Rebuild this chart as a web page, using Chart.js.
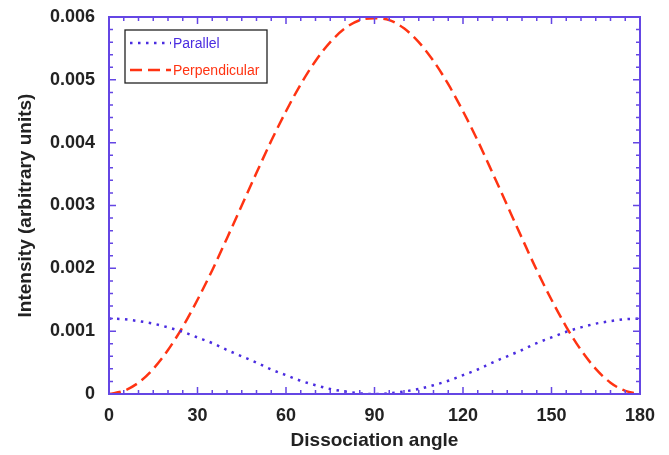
<!DOCTYPE html>
<html>
<head>
<meta charset="utf-8">
<script src="https://cdn.jsdelivr.net/npm/chart.js@4"></script>
<style>
  html, body { margin: 0; padding: 0; background: #ffffff; }
  #wrap { width: 669px; height: 455px; }
</style>
</head>
<body>
<div id="wrap"><canvas id="c" width="669" height="455"></canvas></div>
<script>
const angles = [0,5,10,15,20,25,30,35,40,45,50,55,60,65,70,75,80,85,90,95,100,105,110,115,120,125,130,135,140,145,150,155,160,165,170,175,180];
const parallel = [0.0012,0.00119,0.00116,0.00112,0.00106,0.00099,0.0009,0.00081,0.0007,0.0006,0.0005,0.00039,0.0003,0.00021,0.00014,0.00008,0.00004,0.00001,0,0.00001,0.00004,0.00008,0.00014,0.00021,0.0003,0.00039,0.0005,0.0006,0.0007,0.00081,0.0009,0.00099,0.00106,0.00112,0.00116,0.00119,0.0012];
const perpendicular = [0,0.00005,0.00018,0.0004,0.0007,0.00107,0.0015,0.00197,0.00248,0.003,0.00352,0.00403,0.0045,0.00493,0.0053,0.0056,0.00582,0.00595,0.00598,0.00595,0.00582,0.0056,0.0053,0.00493,0.0045,0.00403,0.00352,0.003,0.00248,0.00197,0.0015,0.00107,0.0007,0.0004,0.00018,0.00005,0];
const xTickLabels = ['0','30','60','90','120','150','180'];
const yTickLabels = ['0','0.001','0.002','0.003','0.004','0.005','0.006'];
const seriesNames = ['Parallel','Perpendicular'];

const BLUE = '#4a2ce0';
const RED = '#ff3312';
const AXIS = '#6446e4';
const TXT = '#222222';
const FONT = '"Liberation Sans", Arial, Helvetica, sans-serif';

const dotted = [2.5, 5.5];
const dashed = [12, 6];

const frameTicks = {
  id: 'frameTicks',
  afterDatasetsDraw(chart) {
    const {ctx, chartArea: ca, scales} = chart;
    const xs = scales.x, ys = scales.y;
    ctx.save();
    ctx.strokeStyle = AXIS;
    ctx.lineWidth = 1.5;
    for (let v = 0; v <= 180; v += 5) {
      const px = xs.getPixelForValue(v);
      const len = (v % 30 === 0) ? 7 : 4;
      ctx.beginPath();
      ctx.moveTo(px, ca.bottom); ctx.lineTo(px, ca.bottom - len);
      ctx.moveTo(px, ca.top); ctx.lineTo(px, ca.top + len);
      ctx.stroke();
    }
    for (let i = 0; i <= 30; i++) {
      const v = i * 0.0002;
      const py = ys.getPixelForValue(v);
      const len = (i % 5 === 0) ? 7 : 4;
      ctx.beginPath();
      ctx.moveTo(ca.left, py); ctx.lineTo(ca.left + len, py);
      ctx.moveTo(ca.right, py); ctx.lineTo(ca.right - len, py);
      ctx.stroke();
    }
    ctx.lineWidth = 2;
    ctx.strokeRect(ca.left, ca.top, ca.right - ca.left, ca.bottom - ca.top);

    // legend
    const bx = ca.left + 16, by = ca.top + 13, bw = 142, bh = 53;
    ctx.fillStyle = '#ffffff';
    ctx.fillRect(bx, by, bw, bh);
    ctx.strokeStyle = '#222';
    ctx.lineWidth = 1.3;
    ctx.strokeRect(bx, by, bw, bh);
    const items = [
      {name: seriesNames[0], color: BLUE, dash: dotted, y: by + 13},
      {name: seriesNames[1], color: RED, dash: dashed, y: by + 40}
    ];
    ctx.font = '14px ' + FONT;
    ctx.textBaseline = 'middle';
    items.forEach(it => {
      ctx.beginPath();
      ctx.strokeStyle = it.color;
      ctx.lineWidth = 2.5;
      ctx.setLineDash(it.dash);
      ctx.moveTo(bx + 5, it.y); ctx.lineTo(bx + 46, it.y);
      ctx.stroke();
      ctx.setLineDash([]);
      ctx.fillStyle = it.color;
      ctx.fillText(it.name, bx + 48, it.y + 1);
    });
    ctx.restore();
  }
};

new Chart(document.getElementById('c'), {
  type: 'line',
  data: {
    datasets: [
      {
        label: seriesNames[0],
        data: angles.map((a, i) => ({x: a, y: parallel[i]})),
        borderColor: BLUE,
        borderWidth: 2.5,
        borderDash: dotted,
        pointRadius: 0,
        cubicInterpolationMode: 'monotone',
        fill: false
      },
      {
        label: seriesNames[1],
        data: angles.map((a, i) => ({x: a, y: perpendicular[i]})),
        borderColor: RED,
        borderWidth: 2.5,
        borderDash: dashed,
        pointRadius: 0,
        cubicInterpolationMode: 'monotone',
        fill: false
      }
    ]
  },
  options: {
    responsive: false,
    animation: false,
    devicePixelRatio: 1,
    layout: { padding: { left: 0, right: 29, top: 17, bottom: 0 } },
    plugins: { legend: { display: false }, tooltip: { enabled: false } },
    scales: {
      x: {
        type: 'linear', min: 0, max: 180,
        afterFit(s) { s.height = 61; s.paddingLeft = 0; s.paddingRight = 0; },
        grid: { display: false, drawTicks: false },
        border: { display: false },
        ticks: {
          stepSize: 30, padding: 11, color: TXT,
          font: { family: FONT, size: 18, weight: 'bold' },
          maxRotation: 0,
          callback: (v) => { const i = Math.round(v / 30); return xTickLabels[i]; }
        },
        title: {
          display: true, text: 'Dissociation angle', color: TXT,
          font: { family: FONT, size: 19, weight: 'bold' },
          padding: { top: 0, bottom: 3 }
        }
      },
      y: {
        type: 'linear', min: 0, max: 0.006,
        afterFit(s) { s.width = 109; s.paddingTop = 0; s.paddingBottom = 0; },
        grid: { display: false, drawTicks: false },
        border: { display: false },
        ticks: {
          stepSize: 0.001, padding: 14, color: TXT,
          font: { family: FONT, size: 18, weight: 'bold' },
          callback: (v) => { const i = Math.round(v / 0.001); return yTickLabels[i]; }
        },
        title: {
          display: true, text: 'Intensity (arbitrary units)', color: TXT,
          font: { family: FONT, size: 19, weight: 'bold' },
          padding: { top: 14, bottom: 0 }
        }
      }
    }
  },
  plugins: [frameTicks]
});
</script>
</body>
</html>
